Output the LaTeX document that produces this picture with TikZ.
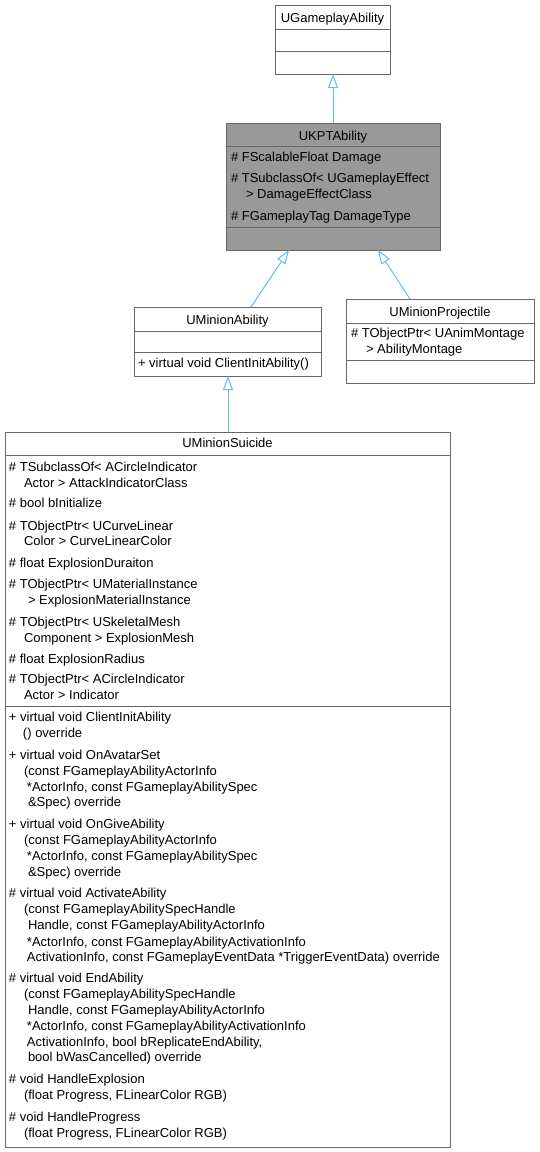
\documentclass[tikz,border=0pt]{standalone}
\usepackage{fontspec}
\setmainfont{Liberation Sans}
\usetikzlibrary{arrows.meta}
\definecolor{edgeblue}{HTML}{63B8FF}
\definecolor{boxborder}{HTML}{666666}
\definecolor{curfill}{HTML}{999999}
\begin{document}
\begin{tikzpicture}[x=1pt,y=-1pt,
  box/.style={draw=boxborder, line width=1pt, fill=white, anchor=north west, inner sep=0pt, outer sep=0pt},
  curbox/.style={box, fill=curfill},
  div/.style={draw=boxborder, line width=1pt},
  txt/.style={anchor=base west, inner sep=0pt, outer sep=0pt, font=\fontsize{13}{16}\selectfont},
  ttl/.style={anchor=base, inner sep=0pt, outer sep=0pt, font=\fontsize{13}{16}\selectfont},
  inh/.style={draw=edgeblue, line width=1pt, -{Triangle[length=14pt,width=10pt,fill=white]}}
]
\useasboundingbox (0,0) rectangle (539,1152);

% UGameplayAbility
\node[box, minimum width=115pt, minimum height=69pt] (ga) at (275,5) {};
\draw[div] (275,29) -- (390,29);
\draw[div] (275,51) -- (390,51);
\node[ttl] (gaT) at (332.5,22) {UGameplayAbility};

% UKPTAbility
\node[curbox, minimum width=214pt, minimum height=127pt] (kpt) at (226,123) {};
\draw[div] (226,146) -- (440,146);
\draw[div] (226,227) -- (440,227);
\node[ttl] (kptT) at (333,140) {UKPTAbility};
\node[txt] (k1) at (231,161) {\# FScalableFloat Damage};
\node[txt] (k2) at (231,182) {\# TSubclassOf< UGameplayEffect};
\node[txt] (k3) at (246,198) {> DamageEffectClass};
\node[txt] (k4) at (231,220) {\# FGameplayTag DamageType};

% UMinionAbility
\node[box, minimum width=187pt, minimum height=69pt] (ma) at (134,307) {};
\draw[div] (134,331) -- (321,331);
\draw[div] (134,352) -- (321,352);
\node[ttl] (maT) at (227.5,324) {UMinionAbility};
\node[txt] (m1) at (138,367.5) {+ virtual void ClientInitAbility()};

% UMinionProjectile
\node[box, minimum width=188pt, minimum height=84pt] (mp) at (346,299) {};
\draw[div] (346,323) -- (534,323);
\draw[div] (346,360) -- (534,360);
\node[ttl] (mpT) at (440,316.5) {UMinionProjectile};
\node[txt] (p1) at (351,337.5) {\# TObjectPtr< UAnimMontage};
\node[txt] (p2) at (366,353.5) {> AbilityMontage};

% UMinionSuicide
\node[box, minimum width=445pt, minimum height=715pt] (ms) at (5,432) {};
\draw[div] (5,455) -- (450,455);
\draw[div] (5,706) -- (450,706);
\node[ttl] (msT) at (227.5,447.5) {UMinionSuicide};

\node[txt] (a1) at (9,471.5) {\# TSubclassOf< ACircleIndicator};
\node[txt] (a2) at (24,487.5) {Actor > AttackIndicatorClass};
\node[txt] (a3) at (9,507.5) {\# bool bInitialize};
\node[txt] (a4) at (9,530.5) {\# TObjectPtr< UCurveLinear};
\node[txt] (a5) at (24,545.5) {Color > CurveLinearColor};
\node[txt] (a6) at (9,567.5) {\# float ExplosionDuraiton};
\node[txt] (a7) at (9,588.5) {\# TObjectPtr< UMaterialInstance};
\node[txt] (a8) at (28,604.5) {> ExplosionMaterialInstance};
\node[txt] (a9) at (9,626.5) {\# TObjectPtr< USkeletalMesh};
\node[txt] (a10) at (24,642.5) {Component > ExplosionMesh};
\node[txt] (a11) at (9,663.5) {\# float ExplosionRadius};
\node[txt] (a12) at (9,683.5) {\# TObjectPtr< ACircleIndicator};
\node[txt] (a13) at (24,699.5) {Actor > Indicator};

\node[txt] (f1) at (9,721.5) {+ virtual void ClientInitAbility};
\node[txt] (f2) at (23,737.5) {() override};
\node[txt] (f3) at (9,759.5) {+ virtual void OnAvatarSet};
\node[txt] (f4) at (24,775.5) {(const FGameplayAbilityActorInfo};
\node[txt] (f5) at (27,791.5) {*ActorInfo, const FGameplayAbilitySpec};
\node[txt] (f6) at (28,806.5) {\&Spec) override};
\node[txt] (f7) at (9,828.5) {+ virtual void OnGiveAbility};
\node[txt] (f8) at (24,844.5) {(const FGameplayAbilityActorInfo};
\node[txt] (f9) at (27,860.5) {*ActorInfo, const FGameplayAbilitySpec};
\node[txt] (f10) at (28,876.5) {\&Spec) override};
\node[txt] (f11) at (9,897.5) {\# virtual void ActivateAbility};
\node[txt] (f12) at (24,913.5) {(const FGameplayAbilitySpecHandle};
\node[txt] (f13) at (28,929.5) {Handle, const FGameplayAbilityActorInfo};
\node[txt] (f14) at (27,946.5) {*ActorInfo, const FGameplayAbilityActivationInfo};
\node[txt] (f15) at (27,961.5) {ActivationInfo, const FGameplayEventData *TriggerEventData) override};
\node[txt] (f16) at (9,982.5) {\# virtual void EndAbility};
\node[txt] (f17) at (24,998.5) {(const FGameplayAbilitySpecHandle};
\node[txt] (f18) at (28,1014.5) {Handle, const FGameplayAbilityActorInfo};
\node[txt] (f19) at (27,1030.5) {*ActorInfo, const FGameplayAbilityActivationInfo};
\node[txt] (f20) at (27,1046.5) {ActivationInfo, bool bReplicateEndAbility,};
\node[txt] (f21) at (28,1061.5) {bool bWasCancelled) override};
\node[txt] (f22) at (9,1083.5) {\# void HandleExplosion};
\node[txt] (f23) at (24,1099.5) {(float Progress, FLinearColor RGB)};
\node[txt] (f24) at (9,1121.5) {\# void HandleProgress};
\node[txt] (f25) at (24,1137.5) {(float Progress, FLinearColor RGB)};

% connector endpoints
\coordinate (kptTop) at (333,123);
\coordinate (gaBot) at (333,74);
\coordinate (maTop) at (251,307);
\coordinate (kptBotL) at (289,250);
\coordinate (mpTop) at (410,299);
\coordinate (kptBotR) at (378,250);
\coordinate (msTop) at (228,432);
\coordinate (maBot) at (228,376);

\draw[inh] (kptTop) -- (gaBot);
\draw[inh] (maTop) -- (kptBotL);
\draw[inh] (mpTop) -- (kptBotR);
\draw[inh] (msTop) -- (maBot);
\end{tikzpicture}
\end{document}
